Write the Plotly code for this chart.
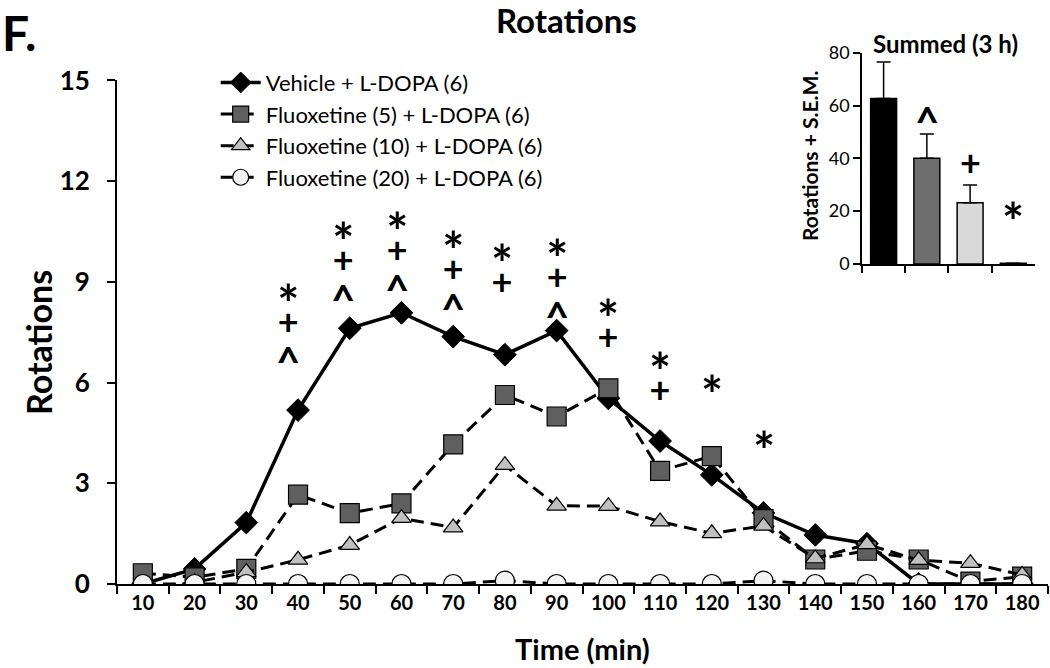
import plotly.graph_objects as go

# ---------------- data ----------------
times = [10, 20, 30, 40, 50, 60, 70, 80, 90, 100, 110, 120, 130, 140, 150, 160, 170, 180]
vehicle = [0.0, 0.45, 1.83, 5.18, 7.62, 8.08, 7.37, 6.83, 7.55, 5.53, 4.26, 3.25, 2.12, 1.46, 1.20, 0.0, 0.0, 0.0]
fluox5 = [0.32, 0.20, 0.45, 2.66, 2.11, 2.40, 4.16, 5.63, 4.99, 5.83, 3.37, 3.81, 1.93, 0.73, 0.99, 0.73, 0.07, 0.22]
fluox10 = [-0.2, 0.05, 0.35, 0.72, 1.16, 1.96, 1.68, 3.54, 2.33, 2.32, 1.86, 1.51, 1.73, 0.76, 1.18, 0.71, 0.62, 0.27]
fluox20 = [0, 0, 0, 0, 0, 0, 0, 0.1, 0, 0, 0, 0, 0.1, 0, 0, 0, 0, 0]
series_names = ["Vehicle + L-DOPA (6)", "Fluoxetine (5) + L-DOPA (6)",
                "Fluoxetine (10) + L-DOPA (6)", "Fluoxetine (20) + L-DOPA (6)"]

y_ticks = [0, 3, 6, 9, 12, 15]

# significance marks per time point (top-to-bottom) and level of the top mark
sig_times = [40, 50, 60, 70, 80, 90, 100, 110, 120, 130]
sig_labels = ['*+^', '*+^', '*+^', '*+^', '*+', '*+^', '*+', '*+', '*', '*']
sig_top_y = [8.76, 10.6, 10.9, 10.35, 9.96, 10.1, 8.31, 6.72, 6.06, 4.37]

# inset: summed over 3 h
groups = ["Vehicle", "Fluoxetine 5", "Fluoxetine 10", "Fluoxetine 20"]
summed = [62.7, 40.0, 23.2, 0.3]
summed_sem = [13.8, 9.2, 6.7, 0.0]
summed_sig = ['', '^', '+', '*']
summed_sig_y = [0, 57.7, 38.7, 21.6]
inset_ticks = [0, 20, 40, 60, 80]

# ---------------- style ----------------
FONT = "Lato"
bar_colors = ['#000000', '#6e6e6e', '#d9d9d9', '#ffffff']
glyph_size = {'*': 52, '+': 36, '^': 42}
glyph_shift = {'*': -14, '+': 0, '^': -9}
glyph_baseline = {'*': -19, '+': 0, '^': -11}
col_nudge = {40: -10, 50: -7, 60: -4, 80: -3}
STACK_SHIFT = 20

cats = [str(t) for t in times]

fig = go.Figure()

fig.add_trace(go.Scatter(
    x=cats, y=vehicle, name=series_names[0], mode='lines+markers',
    line=dict(color='black', width=3.5),
    marker=dict(symbol='diamond', size=17.5, color='black', line=dict(color='black', width=1))))
fig.add_trace(go.Scatter(
    x=cats, y=fluox5, name=series_names[1], mode='lines+markers',
    line=dict(color='black', width=3, dash='13px,7px'),
    marker=dict(symbol='square', size=19, color='#5f5f5f', line=dict(color='black', width=1.2))))
fig.add_trace(go.Scatter(
    x=cats, y=fluox10, name=series_names[2], mode='lines+markers',
    line=dict(color='black', width=3, dash='13px,7px'),
    marker=dict(symbol='triangle-up', size=17, color='#c0c0c0', line=dict(color='black', width=1.2))))
fig.add_trace(go.Scatter(
    x=cats, y=fluox20, name=series_names[3], mode='lines+markers',
    line=dict(color='black', width=3, dash='13px,7px'),
    marker=dict(symbol='circle', size=19, color='#f4f4f4', line=dict(color='black', width=1.2))))

# inset bars
fig.add_trace(go.Bar(
    x=groups, y=summed, xaxis='x2', yaxis='y2', width=0.6, showlegend=False,
    marker=dict(color=bar_colors, line=dict(color='black', width=1.5)),
    error_y=dict(type='data', array=summed_sem, symmetric=False, arrayminus=[0] * 4,
                 color='black', thickness=1.5, width=7)))


def glyph_span(c):
    return ("<span style='font-size:%dpx;baseline-shift:%dpx'>%s</span>"
            % (glyph_size[c], glyph_baseline[c], c))


annotations = []
for t, lab, yv in zip(sig_times, sig_labels, sig_top_y):
    annotations.append(dict(x=times.index(t), y=yv, xref='x', yref='y',
                            text='<br>'.join(glyph_span(c) for c in lab), showarrow=False,
                            xanchor='center', yanchor='top', align='center',
                            xshift=col_nudge.get(t, 0), yshift=STACK_SHIFT,
                            font=dict(family=FONT, size=24, color='black', weight='bold')))
for i, (m, yv) in enumerate(zip(summed_sig, summed_sig_y)):
    if m:
        annotations.append(dict(x=i, y=yv, xref='x2', yref='y2', text=m, showarrow=False,
                                xanchor='center', yanchor='middle', yshift=glyph_shift[m],
                                font=dict(family=FONT, size=glyph_size[m], color='black', weight='bold')))

# titles and labels
annotations += [
    dict(text="<b>Rotations</b>", x=0.4823, y=0.9826, xref='paper', yref='paper', showarrow=False,
         xanchor='center', yanchor='middle', font=dict(family=FONT, size=33, color='black')),
    dict(text="<b>F.</b>", x=-0.1257, y=0.96, xref='paper', yref='paper', showarrow=False,
         xanchor='left', yanchor='middle', font=dict(family=FONT, size=48, color='black')),
    dict(text="<b>Rotations</b>", x=-0.0849, y=0.4216, xref='paper', yref='paper', showarrow=False,
         textangle=-90, xanchor='center', yanchor='middle', font=dict(family=FONT, size=34, color='black')),
    dict(text="<b>Time (min)</b>", x=0.5005, y=-0.1115, xref='paper', yref='paper', showarrow=False,
         xanchor='center', yanchor='middle', font=dict(family=FONT, size=29, color='black')),
    dict(text="<b>Summed (3 h)</b>", x=0.8894, y=0.9425, xref='paper', yref='paper', showarrow=False,
         xanchor='center', yanchor='middle', font=dict(family=FONT, size=24, color='black')),
    dict(text="<b>Rotations + S.E.M.</b>", x=0.7433, y=0.7456, xref='paper', yref='paper', showarrow=False,
         textangle=-90, xanchor='center', yanchor='middle', font=dict(family=FONT, size=21, color='black')),
]

fig.update_layout(
    width=1050, height=668,
    margin=dict(l=117, r=2, t=10, b=84, autoexpand=False),
    paper_bgcolor='white', plot_bgcolor='white',
    font=dict(family=FONT, color='black'),
    showlegend=True,
    legend=dict(x=0.106, y=0.91, xanchor='left', yanchor='top',
                bgcolor='rgba(0,0,0,0)', font=dict(family=FONT, size=22, color='black'),
                itemwidth=40, tracegroupgap=0),
    annotations=annotations,
    xaxis=dict(type='category', domain=[0, 1], range=[-0.5, 17.5], tickson='boundaries',
               showline=True, linecolor='black', linewidth=2, ticks='outside', ticklen=8,
               tickwidth=2, tickcolor='black', showgrid=False, zeroline=False,
               tickfont=dict(family=FONT, size=20, color='black', weight='bold')),
    yaxis=dict(domain=[0, 0.8772], range=[0, 15], tickvals=y_ticks,
               showline=True, linecolor='black', linewidth=2, ticks='outside', ticklen=8,
               tickwidth=2, tickcolor='black', showgrid=False, zeroline=False,
               ticklabelstandoff=12,
               tickfont=dict(family=FONT, size=26, color='black', weight='bold')),
    xaxis2=dict(type='category', domain=[0.8002, 0.9860], anchor='y2', range=[-0.5, 3.5],
                tickson='boundaries', showticklabels=False, showline=True, linecolor='black',
                linewidth=1.5, ticks='outside', ticklen=7, tickwidth=1.5, tickcolor='black',
                showgrid=False, zeroline=False),
    yaxis2=dict(domain=[0.5575, 0.9256], anchor='x2', range=[0, 80], tickvals=inset_ticks,
                showline=True, linecolor='black', linewidth=1.5, ticks='outside', ticklen=7,
                tickwidth=1.5, tickcolor='black', showgrid=False, zeroline=False,
                tickfont=dict(family=FONT, size=18, color='black')),
)

fig.write_html("out.html", config={'displayModeBar': False},
               post_script="document.body.style.margin='0';document.body.style.overflow='hidden';")
